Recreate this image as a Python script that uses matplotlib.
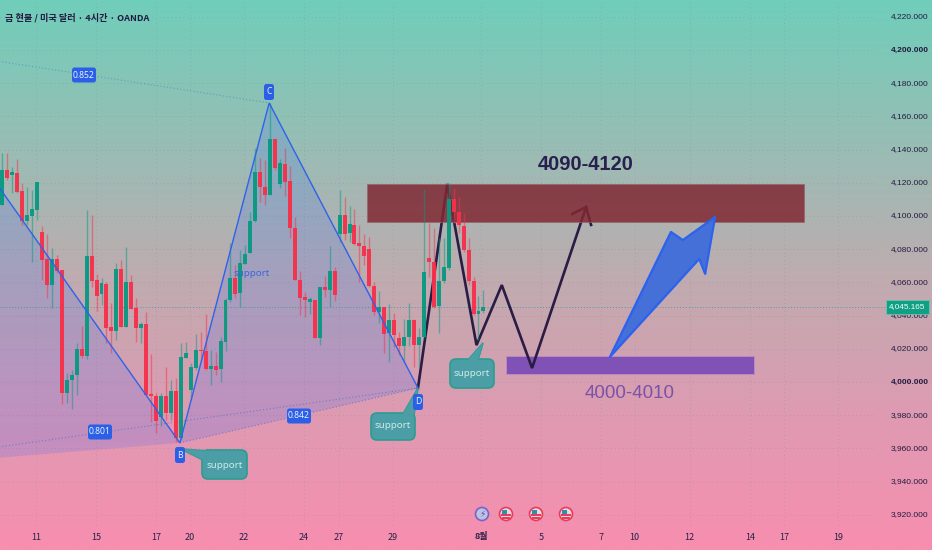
import numpy as np
import matplotlib
matplotlib.use("Agg")
import matplotlib.pyplot as plt
from matplotlib.patches import FancyBboxPatch, Polygon, Circle, Rectangle
from matplotlib.transforms import Affine2D

W, H = 932, 550
GREEN, RED = "#089981", "#f7304a"

opens = [4106.6,4127.7,4124.7,4126.1,4114.9,4097.2,4100.0,4103.6,4090.6,4073.9,4058.4,4073.9,4067.3,3993.2,4001.2,4004.2,
 4019.9,4015.7,4076.1,4061.4,4053.0,4059.2,4033.1,4030.9,4067.9,4033.3,4060.4,4044.4,4032.5,4035.1,3992.8,3991.8,
 3979.1,3991.8,3981.1,3994.4,3966.1,4014.5,3995.2,4008.4,4019.3,4018.9,4007.6,4009.6,4007.8,4024.3,4049.4,4062.8,4053.4,
 4071.1,4077.9,4097.0,4126.5,4117.5,4112.4,4146.4,4119.1,4131.3,4120.9,4093.0,4061.4,4051.0,4048.4,4049.6,4026.7,4057.2,
 4055.6,4066.7,4089.4,4100.4,4089.6,4094.6,4083.5,4082.1,4080.1,4058.0,4042.0,4045.0,4029.3,4037.3,4026.7,4021.7,4026.9,
 4037.3,4022.3,4027.1,4074.5,4072.1,4045.8,4061.0,4068.9,4110.2,4102.6,4094.2,4079.5,4060.8,4040.7,4043.0]
closes = [4127.7,4122.7,4126.3,4114.7,4097.2,4100.4,4104.0,4120.3,4073.5,4058.4,4073.9,4066.9,3993.2,4001.2,4004.2,4020.1,
 4015.7,4075.9,4061.0,4052.0,4059.4,4032.5,4030.9,4067.9,4033.3,4060.4,4044.0,4032.5,4034.9,3992.2,3991.6,3976.5,
 3991.8,3981.1,3994.4,3966.1,4014.9,4017.3,4008.8,4019.3,4018.9,4007.6,4009.6,4007.2,4024.7,4049.4,4062.4,4053.0,4071.5,
 4077.1,4097.0,4126.7,4117.5,4112.4,4146.4,4129.1,4131.7,4120.5,4093.0,4061.4,4050.8,4049.4,4049.8,4026.7,4057.4,4055.6,
 4066.7,4052.6,4100.4,4089.4,4095.2,4083.1,4081.9,4075.9,4058.0,4042.0,4045.4,4029.1,4037.3,4028.3,4021.7,4027.3,4037.3,
 4022.3,4027.3,4066.1,4072.1,4045.4,4061.0,4069.1,4110.2,4102.6,4094.6,4079.5,4060.8,4040.7,4043.0,4045.0]
highs = [4137.7,4137.7,4129.3,4134.1,4119.7,4117.7,4115.7,4120.7,4094.0,4089.2,4080.5,4076.5,4067.3,4005.6,4007.2,4023.3,
 4033.7,4103.6,4100.6,4064.9,4062.4,4060.4,4047.4,4071.5,4073.5,4081.1,4064.5,4050.4,4036.3,4042.4,4016.9,3993.2,
 3993.2,4008.8,4001.2,4002.4,4023.3,4024.3,4011.2,4028.9,4030.3,4040.8,4019.3,4018.3,4027.3,4050.4,4083.5,4070.5,4079.5,
 4082.5,4102.6,4140.8,4134.7,4133.7,4167.9,4146.4,4134.1,4140.8,4130.1,4099.2,4067.1,4054.4,4051.4,4049.6,4057.4,4063.9,
 4081.9,4069.5,4115.7,4111.6,4106.0,4104.0,4094.6,4089.0,4087.5,4060.4,4054.8,4045.0,4047.0,4041.4,4029.9,4037.7,4047.4,
 4037.7,4032.3,4116.1,4096.0,4092.6,4086.5,4086.5,4119.7,4116.7,4111.6,4101.6,4086.5,4063.4,4051.8,4055.4]
lows = [4106.6,4121.7,4114.0,4113.6,4094.6,4094.6,4072.5,4097.6,4061.4,4050.4,4044.4,4065.5,3986.7,3987.1,3983.9,3992.2,
 4014.3,4013.7,4057.4,4042.8,4046.4,4023.3,4017.7,4025.3,4033.3,4033.3,4044.0,4024.1,4023.3,3992.2,3976.1,3969.5,
 3973.5,3977.1,3977.1,3964.0,3965.1,4014.5,3989.2,4007.2,4013.2,4007.2,3998.2,4004.2,4000.2,4018.9,4048.4,4050.4,4045.4,
 4071.1,4077.5,4096.6,4108.6,4106.6,4112.4,4127.7,4116.7,4112.0,4086.5,4061.4,4040.4,4039.4,4041.0,4026.3,4022.3,4051.4,
 4045.0,4049.0,4084.5,4085.5,4084.5,4082.5,4060.4,4070.5,4057.4,4040.4,4035.3,4017.3,4011.8,4021.3,4016.3,4012.2,4021.7,
 4009.2,4009.2,4026.3,4063.4,4044.4,4029.3,4059.4,4067.5,4095.6,4089.5,4078.5,4058.4,4040.4,4025.3,4041.4]

price_ticks = [4220,4200,4180,4160,4140,4120,4100,4080,4060,4040,4020,4000,3980,3960,3940,3920]
bold_ticks = [4200, 4000]
last_price = 4045.165
time_labels = ["11","15","17","20","22","24","27","29","8월","5","7","10","12","14","17","19"]
time_pos = [6.8,18.9,31.0,37.8,48.7,60.8,67.9,78.8,96.5,108.6,120.7,127.5,138.6,150.7,157.6,168.5]

# harmonic pattern X, A, B, C, D
pat_x = [-38.0,-20.8,35.8,53.8,83.8]
pat_y = [3945.2,4202.4,3963.3,4168.1,3996.4]
# projected path
path_x = [83.8,89.7,95.6,100.7,106.8,117.7]
path_y = [3996.4,4119.3,4022.2,4058.4,4008.4,4105.4]
head_x = [114.9,117.7,118.7]
head_y = [4101.2,4105.4,4094.6]
zone_up_x = [73.5,161.6]; zone_up_y = [4096.6,4119.3]
zone_dn_x = [101.6,151.6]; zone_dn_y = [4004.8,4015.7]
arrow_x = [122.5,134.8,137.2,143.7,141.7,140.5]
arrow_y = [4015.1,4090.4,4085.5,4099.4,4065.1,4074.1]

fig = plt.figure(figsize=(W/100, H/100), dpi=100)
ax = fig.add_axes([0, 0, 1, 1])
xlim = (-0.464, 187.43); ylim = (3898.8, 4230.1)

stops = np.array([[112,206,186],[150,190,180],[190,172,176],[222,155,178],[248,142,176]])/255
t = np.linspace(0, 1, 256)
grad = np.stack([np.interp(t, np.linspace(0,1,5), stops[:,c]) for c in range(3)], axis=1)[:,None,:]
ax.imshow(grad, extent=(xlim[0],xlim[1],ylim[0],ylim[1]), origin="upper", aspect="auto", zorder=0)
ax.set_xlim(xlim); ax.set_ylim(ylim); ax.axis("off")

gc = (0.35,0.4,0.5,0.2)
for p in price_ticks:
    ax.plot([xlim[0],176],[p,p],ls=(0,(1,3)),lw=0.7,color=gc,zorder=1)
for x in time_pos:
    ax.plot([x,x],[ylim[0]+15,ylim[1]],ls=(0,(1,3)),lw=0.7,color=gc,zorder=1)

# pattern fill
blue = "#2962ff"
ax.add_patch(Polygon(list(zip(pat_x[:3],pat_y[:3])),fc=blue,alpha=0.17,ec="none",zorder=1.5))
ax.add_patch(Polygon(list(zip(pat_x[2:],pat_y[2:])),fc=blue,alpha=0.17,ec="none",zorder=1.5))
ax.plot([pat_x[1],pat_x[3]],[pat_y[1],pat_y[3]],ls=(0,(1,2)),lw=0.8,color="#4a90b8",alpha=.7,zorder=1.6)
ax.plot([pat_x[0],pat_x[4]],[pat_y[0],pat_y[4]],ls=(0,(1,2)),lw=0.8,color="#4a70c8",alpha=.7,zorder=1.6)
ax.plot([pat_x[2],pat_x[4]],[pat_y[2],pat_y[4]],ls=(0,(1,2)),lw=0.8,color="#4a70c8",alpha=.7,zorder=1.6)

ax.axhline(last_price,xmax=0.95,ls=(0,(1,2)),lw=0.7,color="#2a9aa0",alpha=.8,zorder=1.7)

# support zone, then the projected path, then the resistance zone over it
ax.add_patch(Rectangle((zone_dn_x[0],zone_dn_y[0]),zone_dn_x[1]-zone_dn_x[0],zone_dn_y[1]-zone_dn_y[0],
                       fc="#8052b6",ec="#c090c0",lw=0.5,zorder=3.5))
ink = "#2a1c44"
ax.plot(path_x,path_y,color=ink,lw=1.9,zorder=3.8,solid_joinstyle="miter")
ax.plot(head_x,head_y,color=ink,lw=1.9,zorder=3.8,solid_joinstyle="miter")
ax.add_patch(Rectangle((zone_up_x[0],zone_up_y[0]),zone_up_x[1]-zone_up_x[0],zone_up_y[1]-zone_up_y[0],
                       fc="#812933",ec="#a0606a",lw=0.6,alpha=0.85,zorder=4))

# candles
idx = np.arange(len(opens))
o, c, h, l = map(np.array, (opens, closes, highs, lows))
cols = [GREEN if cc >= oo else RED for oo, cc in zip(o, c)]
ax.vlines(idx, l, h, colors=cols, lw=1.0, alpha=0.5, zorder=4.2)
ax.bar(idx, np.abs(c-o), bottom=np.minimum(o,c), width=0.8, color=cols, alpha=0.95, zorder=4.3, lw=0)

ax.plot(pat_x[1:],pat_y[1:],color="#2f62ea",lw=1.0,zorder=4.5,solid_joinstyle="miter")
ax.add_patch(Polygon(list(zip(arrow_x,arrow_y)),fc="#4470d8",ec="#2c62ee",lw=1.6,joinstyle="round",zorder=5))

# pixel-placed annotation furniture
px = Affine2D().scale(1,-1).translate(0,H)
SANS = ["Noto Sans CJK KR","DejaVu Sans"]

def callout(x0,y0,x1,y1,tail,cx,cy):
    ax.add_patch(Polygon(tail,closed=True,fc="#4b9ea6",ec="#2a9d8f",lw=1.2,transform=px,zorder=6))
    ax.add_patch(FancyBboxPatch((x0,y0),x1-x0,y1-y0,boxstyle="round,pad=0,rounding_size=6",
                                fc="#4b9ea6",ec="#2a9d8f",lw=1.2,transform=px,zorder=6.1))
    ax.add_patch(Polygon(tail,closed=True,fc="#4b9ea6",ec="none",transform=px,zorder=6.2))
    ax.text(cx,cy,"support",transform=px,ha="center",va="center",fontsize=7,color="#cfeae6",
            family="Noto Sans",zorder=7)

callout(202,450,247,479,[(181,449),(209,451),(203,460)],225,465)
callout(371,413,415,440,[(418,388),(403,414),(414,415)],393,426)
callout(450,359,494,388,[(483,343),(468,360),(478,360)],472,374)

def tag(x,y,s,w,hh):
    ax.add_patch(FancyBboxPatch((x-w/2,y-hh/2),w,hh,boxstyle="round,pad=0,rounding_size=2.5",
                                fc="#2b5fe8",ec="none",transform=px,zorder=7))
    ax.text(x,y,s,transform=px,ha="center",va="center",fontsize=6.2,color="#e8f0ff",
            family="Noto Sans",zorder=8)
tag(84,75,"0.852",24,15); tag(100,432,"0.801",24,15); tag(299,416,"0.842",24,15)
tag(269,92,"C",10,16); tag(180,455,"B",10,16); tag(418,402,"D",10,16)
ax.text(252,273,"support",transform=px,ha="center",va="center",fontsize=7,color="#3768dc",family="Noto Sans",zorder=7)

ax.text(586,165,"4090-4120",transform=px,ha="center",va="center",fontsize=14.5,color="#2a2050",
        family="Liberation Sans",fontweight="bold",zorder=7)
ax.text(630,393,"4000-4010",transform=px,ha="center",va="center",fontsize=13.5,color="#7a52a8",
        family="Liberation Sans",zorder=7)
ax.text(5,18,"금 현물 / 미국 달러 · 4시간 · OANDA",transform=px,ha="left",va="center",fontsize=6.6,
        color="#221a40",family=SANS,fontweight="bold",zorder=7)

for p in price_ticks:
    ax.text(891,50+(4200-p)*1.66,f"{p:,.3f}",transform=px,ha="left",va="center",fontsize=6.0,
            color="#221a40",family="Liberation Sans",fontweight="bold" if p in bold_ticks else "normal",zorder=7)
ax.add_patch(Rectangle((886,300),43,14,fc="#12a085",ec="#70c8b8",lw=0.5,transform=px,zorder=8))
ax.text(907.5,307,f"{last_price:,.3f}",transform=px,ha="center",va="center",fontsize=5.9,color="#f0fff8",
        family="Liberation Sans",zorder=9)

for pos,s in zip(time_pos,time_labels):
    xp = 2.3+4.96*pos
    ax.text(xp,537,s,transform=px,ha="center",va="center",fontsize=6.5,color="#2a2044",
            family=SANS,fontweight="bold" if s=="8월" else "normal",zorder=7)

# event markers on the time scale
ax.add_patch(Circle((482,514),6.5,fc="#b8c4e0",ec="#8060c8",lw=1.2,transform=px,zorder=7))
ax.text(482,514,"\u26a1",transform=px,ha="center",va="center",fontsize=6.5,color="#7048c8",family="DejaVu Sans",zorder=8)
for xc in (506,536,566):
    ax.add_patch(Circle((xc,514),6.5,fc="#e8d8dc",ec="#e83c5a",lw=1.2,transform=px,zorder=7))
    ax.add_patch(Rectangle((xc-5,513.5),10,2,fc="#e83c5a",ec="none",transform=px,zorder=8))
    ax.add_patch(Rectangle((xc-4,517),8,2,fc="#e83c5a",ec="none",transform=px,zorder=8))
    ax.add_patch(Rectangle((xc-4.5,509.5),5,4,fc="#2a8fb0",ec="none",transform=px,zorder=8))

fig.savefig("out.png",dpi=100)
